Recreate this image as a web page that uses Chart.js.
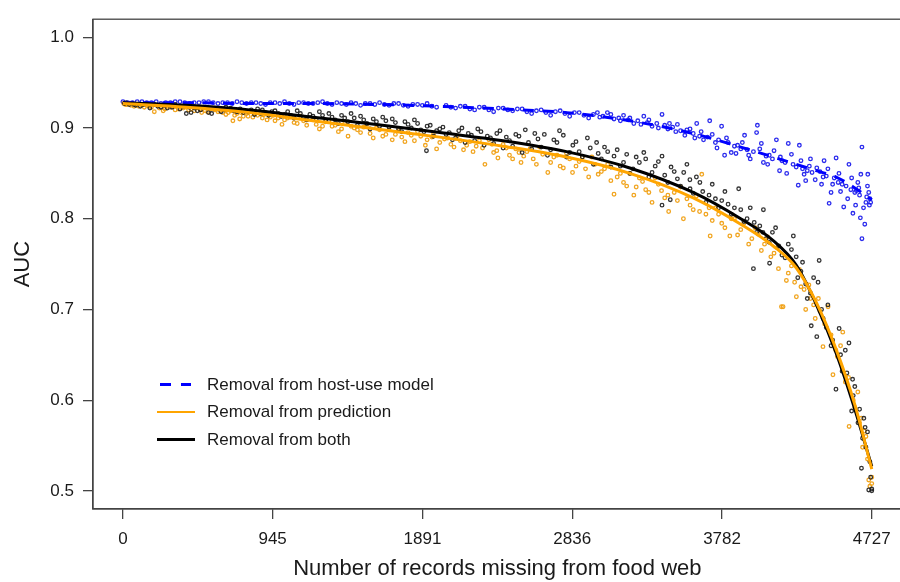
<!DOCTYPE html>
<html>
<head>
<meta charset="utf-8">
<script src="https://cdn.jsdelivr.net/npm/chart.js@4.4.1/dist/chart.umd.min.js"></script>
<style>
  html, body { margin: 0; padding: 0; background: #fff; overflow: hidden; }
  #wrap { position: relative; width: 900px; height: 582px; overflow: hidden; }
  #chart { position: absolute; left: 0; top: 0; }
  #legend { position: absolute; left: 157px; top: 371px; font: 17px "Liberation Sans", Arial, Helvetica, sans-serif; color: #1a1a1a; }
  #legend .row { position: relative; height: 27.3px; line-height: 27.3px; padding-left: 50px; white-space: nowrap; }
  #legend .sw { position: absolute; left: 0; top: 12.4px; width: 38px; height: 2.6px; }
</style>
</head>
<body>
<div id="wrap">
  <canvas id="chart" width="907" height="582"></canvas>
  <div id="legend"></div>
</div>
<script>
// tick positions (as printed on the axes)
const xTickValues = [0, 945, 1891, 2836, 3782, 4727];
const yTickValues = [0.5, 0.6, 0.7, 0.8, 0.9, 1.0];

const seriesNames = ["Removal from host-use model", "Removal from prediction", "Removal from both"];

// fitted curves
const lineX = [0, 400, 800, 1200, 1600, 2000, 2400, 2800, 3200, 3600, 3900, 4105, 4250, 4376, 4502, 4620, 4727];
const blueLine   = [0.928, 0.928, 0.927, 0.927, 0.926, 0.924, 0.921, 0.917, 0.908, 0.894, 0.879, 0.868, 0.860, 0.853, 0.846, 0.834, 0.821];
const orangeLine = [0.927, 0.923, 0.917, 0.908, 0.899, 0.890, 0.880, 0.868, 0.850, 0.823, 0.794, 0.770, 0.746, 0.708, 0.656, 0.595, 0.524];
const blackLine  = [0.928, 0.925, 0.920, 0.912, 0.904, 0.895, 0.886, 0.874, 0.856, 0.829, 0.800, 0.776, 0.749, 0.706, 0.652, 0.590, 0.527];

// individual runs [records missing, AUC]
const bluePts = [
  [0,0.929],[30,0.928],[60,0.928],[90,0.929],[120,0.929],[150,0.928],[180,0.928],[210,0.929],[240,0.927],[270,0.928],
  [300,0.928],[330,0.929],[360,0.929],[390,0.928],[420,0.927],[450,0.928],[480,0.928],[510,0.929],[540,0.929],[570,0.928],
  [600,0.927],[630,0.928],[660,0.928],[690,0.927],[720,0.929],[750,0.928],[780,0.927],[810,0.928],[840,0.928],[870,0.927],
  [900,0.926],[930,0.928],[960,0.928],[990,0.927],[1020,0.929],[1050,0.927],[1080,0.926],[1110,0.928],[1140,0.928],[1170,0.927],
  [1200,0.927],[1230,0.928],[1260,0.929],[1290,0.927],[1320,0.926],[1350,0.928],[1380,0.927],[1410,0.926],[1440,0.928],[1470,0.927],
  [1500,0.925],[1530,0.927],[1560,0.927],[1590,0.926],[1620,0.928],[1650,0.926],[1680,0.925],[1710,0.927],[1740,0.927],[1770,0.925],
  [1800,0.924],[1830,0.926],[1860,0.926],[1890,0.925],[1920,0.927],[1950,0.924],[1980,0.923],
  [2040,0.925],[2070,0.923],[2100,0.922],[2130,0.924],[2160,0.924],[2190,0.921],[2220,0.920],[2250,0.923],[2280,0.923],[2310,0.920],
  [2340,0.918],[2370,0.922],[2400,0.922],[2430,0.920],[2460,0.919],[2490,0.921],[2520,0.921],[2550,0.918],[2580,0.916],[2610,0.919],
  [2640,0.920],[2670,0.917],[2700,0.914],[2730,0.918],[2760,0.919],[2790,0.916],[2820,0.913],[2850,0.917],[2880,0.917],[2910,0.914],
  [2940,0.911],[2970,0.915],[2995,0.917],[3010,0.912],[3030,0.913],[3058,0.917],[3080,0.915],[3100,0.910],[3130,0.911],[3140,0.908],
  [3160,0.914],[3190,0.909],[3200,0.911],[3225,0.905],[3250,0.908],[3270,0.904],[3288,0.913],[3310,0.906],[3320,0.909],[3340,0.902],
  [3370,0.905],[3380,0.900],[3403,0.915],[3420,0.903],[3440,0.899],[3450,0.905],[3470,0.901],[3490,0.896],[3500,0.904],[3520,0.897],
  [3547,0.892],[3560,0.898],[3580,0.899],[3600,0.894],[3610,0.889],[3622,0.905],[3640,0.891],[3650,0.896],[3665,0.887],[3690,0.890],
  [3704,0.908],[3720,0.893],[3740,0.884],[3750,0.878],[3760,0.887],[3779,0.902],[3798,0.870],[3810,0.889],[3820,0.884],[3840,0.873],
  [3860,0.880],[3870,0.872],[3880,0.881],[3900,0.877],[3910,0.884],[3924,0.892],[3940,0.876],[3950,0.870],[3960,0.866],[3980,0.874],
  [4005,0.903],[4000,0.895],[4020,0.877],[4030,0.883],[4043,0.862],[4060,0.869],[4070,0.860],[4080,0.870],[4100,0.866],[4110,0.875],
  [4125,0.887],[4145,0.853],[4150,0.868],[4160,0.864],[4180,0.862],[4190,0.850],[4200,0.883],[4220,0.871],[4230,0.860],[4250,0.857],
  [4263,0.837],[4270,0.881],[4280,0.864],[4290,0.855],[4300,0.849],[4310,0.842],[4320,0.853],[4333,0.858],[4340,0.866],[4350,0.851],
  [4370,0.843],[4380,0.856],[4400,0.852],[4410,0.838],[4420,0.846],[4426,0.864],[4440,0.847],[4450,0.855],[4458,0.817],[4470,0.829],
  [4480,0.838],[4490,0.845],[4502,0.867],[4515,0.840],[4520,0.850],[4530,0.830],[4540,0.838],[4550,0.813],[4565,0.836],[4575,0.822],
  [4583,0.860],[4595,0.832],[4600,0.845],[4608,0.806],[4620,0.829],[4625,0.815],[4630,0.831],[4639,0.840],[4645,0.834],[4650,0.826],
  [4655,0.801],[4658,0.849],[4665,0.879],[4675,0.812],[4683,0.794],[4665,0.778],[4690,0.818],[4695,0.824],[4700,0.836],[4702,0.849],
  [4708,0.829],[4712,0.815],[4715,0.822],[4720,0.818]
];

const orangePts = [
  [5,0.927],[15,0.926],[25,0.926],[30,0.927],[50,0.925],[70,0.924],[85,0.925],[100,0.924],[120,0.926],[135,0.923],
  [150,0.925],[165,0.924],[180,0.923],[198,0.918],[215,0.925],[230,0.922],[254,0.919],[265,0.921],[280,0.924],[300,0.923],
  [315,0.924],[330,0.920],[350,0.921],[365,0.923],[380,0.922],[400,0.923],[415,0.920],[430,0.921],[450,0.919],[470,0.923],
  [485,0.921],[497,0.917],[520,0.919],[535,0.918],[550,0.921],[565,0.922],[580,0.920],[600,0.918],[615,0.919],[630,0.917],
  [650,0.915],[665,0.917],[680,0.919],[694,0.908],[705,0.914],[720,0.916],[737,0.910],[745,0.917],[760,0.913],[780,0.916],
  [790,0.913],[800,0.918],[820,0.912],[835,0.916],[850,0.914],[870,0.917],[880,0.911],[890,0.915],[910,0.909],[920,0.914],
  [930,0.912],[950,0.914],[960,0.908],[980,0.911],[995,0.913],[1004,0.904],
  [1020,0.909],[1040,0.911],[1060,0.912],[1080,0.906],[1100,0.905],[1120,0.913],[1140,0.908],[1160,0.903],[1180,0.911],[1200,0.909],
  [1220,0.904],[1240,0.899],[1260,0.902],[1280,0.907],[1300,0.908],[1320,0.902],[1340,0.903],[1360,0.896],[1380,0.899],[1400,0.905],
  [1421,0.891],[1440,0.902],[1460,0.900],[1480,0.898],[1500,0.895],[1520,0.901],[1540,0.904],[1560,0.894],[1580,0.889],[1600,0.900],
  [1620,0.898],[1640,0.891],[1660,0.893],[1680,0.898],[1700,0.887],[1720,0.893],[1740,0.897],[1760,0.890],[1780,0.885],[1800,0.895],
  [1820,0.892],[1840,0.886],[1860,0.896],[1880,0.891],[1909,0.881],[1920,0.887],[1950,0.890],[1960,0.893],[1980,0.877],[2000,0.884],
  [2030,0.888],[2050,0.889],[2070,0.882],[2090,0.879],[2110,0.891],[2130,0.886],[2150,0.876],[2170,0.881],[2190,0.885],[2210,0.874],
  [2230,0.880],[2250,0.886],[2270,0.878],[2285,0.860],[2310,0.887],[2330,0.882],[2340,0.873],[2360,0.875],[2367,0.867],[2400,0.882],
  [2420,0.878],[2440,0.870],[2460,0.866],[2480,0.877],[2500,0.873],[2513,0.862],[2530,0.869],[2550,0.874],[2570,0.877],[2590,0.866],
  [2610,0.860],[2630,0.879],[2650,0.871],[2682,0.851],[2700,0.862],[2720,0.868],[2740,0.870],[2760,0.858],[2780,0.856],[2800,0.872],
  [2820,0.866],[2838,0.851],[2860,0.858],[2880,0.863],[2900,0.868],[2920,0.855],[2940,0.846],[2960,0.868],[2980,0.860],[3000,0.849],
  [3020,0.852],[3040,0.855],[3060,0.860],[3080,0.842],[3100,0.827],[3120,0.846],[3140,0.850],[3160,0.840],[3180,0.836],[3200,0.850],
  [3225,0.826],[3240,0.835],[3260,0.845],[3280,0.841],[3300,0.832],[3320,0.829],[3340,0.818],[3360,0.845],[3380,0.838],[3400,0.831],
  [3420,0.823],[3440,0.826],[3445,0.808],[3480,0.829],[3500,0.820],[3520,0.835],[3538,0.800],[3560,0.822],[3580,0.815],[3600,0.810],
  [3620,0.825],[3640,0.808],[3654,0.849],[3680,0.805],[3700,0.812],[3707,0.781],[3720,0.798],[3740,0.812],[3760,0.805],[3780,0.795],
  [3800,0.790],[3831,0.781],[3840,0.800],[3860,0.800],[3880,0.782],[3900,0.788],[3920,0.795],[3950,0.772],[3970,0.778],[3990,0.790],
  [4010,0.783],[4030,0.765],[4050,0.772],[4070,0.780],[4090,0.758],[4110,0.762],[4130,0.768],[4138,0.745],[4157,0.703],[4167,0.703],
  [4188,0.732],[4200,0.740],[4220,0.748],[4240,0.730],[4251,0.714],[4270,0.744],[4280,0.725],[4300,0.722],[4310,0.700],[4330,0.727],
  [4340,0.712],[4360,0.705],[4370,0.690],[4390,0.712],[4400,0.698],[4419,0.659],[4430,0.684],[4451,0.703],[4470,0.672],[4482,0.628],
  [4500,0.655],[4510,0.648],[4530,0.660],[4544,0.675],[4560,0.620],[4580,0.625],[4584,0.571],[4610,0.600],[4620,0.592],[4639,0.609],
  [4650,0.575],[4660,0.580],[4669,0.548],[4680,0.566],[4690,0.560],[4700,0.535],[4708,0.512],[4715,0.505],[4727,0.515],[4727,0.508]
];

const blackPts = [
  [10,0.927],[20,0.928],[40,0.926],[60,0.927],[70,0.926],[80,0.925],[110,0.924],[130,0.926],[150,0.927],[170,0.922],
  [200,0.926],[220,0.924],[240,0.923],[260,0.925],[280,0.922],[300,0.925],[310,0.923],[330,0.926],[360,0.921],[380,0.924],
  [400,0.916],[420,0.923],[430,0.917],[450,0.922],[470,0.919],[490,0.920],[520,0.923],[540,0.917],[560,0.916],[580,0.922],
  [600,0.921],[620,0.918],[640,0.920],[650,0.923],[680,0.922],[700,0.919],[720,0.918],[740,0.921],[760,0.917],[790,0.918],
  [810,0.920],[830,0.915],[850,0.921],[870,0.916],[880,0.920],[900,0.917],[920,0.914],[940,0.918],[960,0.919],[980,0.916],
  [1000,0.913],[1020,0.915],[1040,0.918],[1060,0.914],[1080,0.911],[1100,0.919],[1120,0.916],[1140,0.912],[1160,0.909],[1180,0.915],
  [1200,0.913],[1220,0.909],[1240,0.918],[1260,0.914],[1280,0.908],[1300,0.916],[1320,0.912],[1340,0.909],[1360,0.905],[1380,0.914],
  [1400,0.911],[1420,0.907],[1440,0.916],[1460,0.911],[1480,0.903],[1500,0.913],[1520,0.909],[1540,0.905],[1560,0.899],[1580,0.910],
  [1600,0.907],[1620,0.902],[1640,0.912],[1660,0.908],[1680,0.901],[1700,0.910],[1720,0.906],[1740,0.899],[1760,0.896],[1780,0.907],
  [1800,0.904],[1820,0.900],[1840,0.909],[1860,0.905],[1880,0.898],[1900,0.896],[1916,0.875],[1920,0.902],[1940,0.903],[1960,0.891],
  [1980,0.897],[2000,0.899],[2020,0.901],[2040,0.893],[2060,0.895],[2080,0.887],[2100,0.889],[2120,0.897],[2140,0.900],[2160,0.884],
  [2180,0.894],[2200,0.892],[2220,0.886],[2240,0.899],[2260,0.896],[2280,0.881],[2300,0.891],[2320,0.889],[2340,0.883],[2360,0.894],
  [2380,0.897],[2400,0.878],[2420,0.890],[2440,0.886],[2460,0.880],[2480,0.893],[2500,0.891],[2520,0.873],[2540,0.898],[2560,0.884],
  [2580,0.877],[2600,0.894],[2620,0.888],[2640,0.879],[2660,0.893],[2680,0.870],[2700,0.876],[2720,0.887],[2740,0.884],[2756,0.897],
  [2780,0.892],[2800,0.868],[2820,0.873],[2840,0.881],[2860,0.885],[2880,0.874],[2900,0.868],[2932,0.889],[2950,0.878],[2970,0.860],
  [2990,0.884],[3000,0.872],[3020,0.866],[3040,0.879],[3060,0.874],[3080,0.857],[3100,0.869],[3120,0.876],[3140,0.858],[3160,0.862],
  [3180,0.871],[3200,0.850],[3220,0.855],[3240,0.868],[3260,0.862],[3288,0.873],[3300,0.866],[3320,0.846],[3340,0.851],[3360,0.858],
  [3380,0.863],[3403,0.869],[3403,0.815],[3420,0.848],[3440,0.840],[3455,0.821],[3460,0.857],[3480,0.852],[3500,0.844],[3520,0.836],
  [3540,0.851],[3560,0.860],[3579,0.843],[3580,0.833],[3600,0.828],[3620,0.846],[3642,0.840],[3660,0.830],[3680,0.818],[3700,0.826],
  [3720,0.838],[3740,0.822],[3760,0.812],[3780,0.820],[3800,0.830],[3820,0.816],[3840,0.805],[3860,0.812],[3887,0.833],[3900,0.810],
  [3920,0.797],[3940,0.800],[3960,0.812],[3980,0.745],[3985,0.796],[4000,0.785],[4020,0.792],[4040,0.785],[4043,0.810],[4060,0.778],
  [4080,0.774],[4082,0.751],[4100,0.785],[4120,0.790],[4140,0.770],[4160,0.760],[4180,0.757],[4200,0.772],[4220,0.766],[4232,0.781],
  [4250,0.758],[4260,0.735],[4280,0.742],[4290,0.752],[4310,0.728],[4320,0.712],[4340,0.718],[4345,0.682],[4360,0.735],[4380,0.670],
  [4388,0.730],[4395,0.754],[4410,0.700],[4420,0.690],[4440,0.680],[4450,0.705],[4470,0.660],[4480,0.666],[4501,0.612],[4521,0.679],
  [4530,0.650],[4540,0.632],[4560,0.655],[4570,0.630],[4583,0.663],[4600,0.588],[4606,0.623],[4610,0.605],[4620,0.615],[4640,0.575],
  [4650,0.590],[4662,0.525],[4669,0.558],[4677,0.580],[4685,0.570],[4690,0.548],[4700,0.565],[4708,0.501],[4715,0.532],[4720,0.515],
  [4727,0.502],[4727,0.500]
];

const BLUE = "#0000ff";
const ORANGE = "#ffa500";
const BLACK = "#000000";
const FONT = '"Liberation Sans", Arial, Helvetica, sans-serif';

Chart.defaults.font.family = FONT;

function toXY(pts) {
  return pts.map(p => ({ x: p[0], y: p[1] }));
}
function lineXY(ys) {
  return lineX.map((x, i) => ({ x: x, y: ys[i] }));
}

function pointSet(pts, color, order) {
  return {
    type: "scatter",
    data: toXY(pts),
    borderColor: color,
    backgroundColor: "rgba(0,0,0,0)",
    pointRadius: 1.8,
    pointBorderWidth: 1.3,
    showLine: false,
    order: order
  };
}

function curveSet(ys, color, dash, order) {
  return {
    type: "line",
    data: lineXY(ys),
    borderColor: color,
    borderWidth: 3,
    borderDash: dash,
    pointRadius: 0,
    fill: false,
    cubicInterpolationMode: "monotone",
    order: order
  };
}

// plot frame like R's box()
const boxPlugin = {
  id: "box",
  afterDraw(chart) {
    const a = chart.chartArea;
    const ctx = chart.ctx;
    ctx.save();
    ctx.strokeStyle = "#444";
    ctx.lineWidth = 1.3;
    ctx.strokeRect(a.left, a.top, a.right - a.left, a.bottom - a.top);
    ctx.restore();
  }
};

const ctx = document.getElementById("chart").getContext("2d");
new Chart(ctx, {
  type: "scatter",
  data: {
    datasets: [
      pointSet(bluePts, "rgba(20,20,235,0.9)", 6),
      pointSet(orangePts, "rgba(240,160,20,0.95)", 5),
      pointSet(blackPts, "rgba(30,30,30,0.9)", 4),
      curveSet(blueLine, BLUE, [11, 9], 3),
      curveSet(blackLine, BLACK, [], 2),
      curveSet(orangeLine, ORANGE, [], 1)
    ]
  },
  options: {
    responsive: false,
    animation: false,
    devicePixelRatio: 1,
    layout: { padding: { top: 9, right: 1, left: 0, bottom: 0 } },
    plugins: {
      legend: { display: false },
      tooltip: { enabled: false }
    },
    scales: {
      x: {
        type: "linear",
        min: -189,
        max: 4916,
        afterFit: s => { s.height = 73; },
        afterBuildTicks: s => { s.ticks = xTickValues.map(v => ({ value: v })); },
        grid: { display: true, drawOnChartArea: false, drawTicks: true, tickLength: 10, color: "#444", tickColor: "#444", lineWidth: 1.3 },
        border: { display: true, color: "#444", width: 1.3 },
        ticks: { font: { size: 17 }, color: "#1a1a1a", padding: 10, maxRotation: 0, autoSkip: false, callback: v => String(v) },
        title: { display: true, text: "Number of records missing from food web", font: { size: 22 }, color: "#1a1a1a", padding: { top: 0, bottom: 0 } }
      },
      y: {
        type: "linear",
        min: 0.48,
        max: 1.02,
        afterFit: s => { s.width = 93; },
        afterBuildTicks: s => { s.ticks = yTickValues.map(v => ({ value: v })); },
        grid: { display: true, drawOnChartArea: false, drawTicks: true, tickLength: 10, color: "#444", tickColor: "#444", lineWidth: 1.3 },
        border: { display: true, color: "#444", width: 1.3 },
        ticks: { font: { size: 17 }, color: "#1a1a1a", padding: 9, autoSkip: false, callback: v => v.toFixed(1) },
        title: { display: true, text: "AUC", font: { size: 22 }, color: "#1a1a1a", padding: { top: 10, bottom: 0 } }
      }
    }
  },
  plugins: [boxPlugin]
});

// legend inside the plot, lower left
const legendSwatches = [
  "left:2.5px;width:32px;background:repeating-linear-gradient(90deg," + BLUE + " 0 10.7px, transparent 10.7px 20.7px);",
  "background:" + ORANGE + ";",
  "background:" + BLACK + ";"
];
const legendEl = document.getElementById("legend");
seriesNames.forEach((name, i) => {
  const row = document.createElement("div");
  row.className = "row";
  const sw = document.createElement("span");
  sw.className = "sw";
  sw.style.cssText = legendSwatches[i];
  row.appendChild(sw);
  row.appendChild(document.createTextNode(name));
  legendEl.appendChild(row);
});
</script>
</body>
</html>
